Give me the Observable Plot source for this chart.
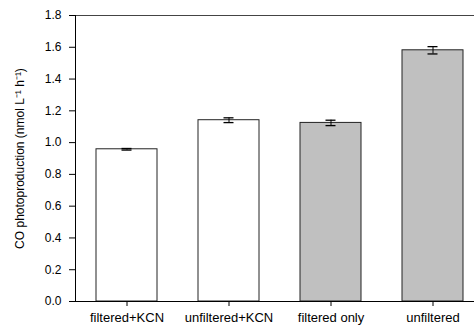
<!DOCTYPE html>
<html><head><meta charset="utf-8">
<script src="https://cdn.jsdelivr.net/npm/d3@7"></script>
<script src="https://cdn.jsdelivr.net/npm/@observablehq/plot@0.6"></script>
<style>body{margin:0;background:#fff;font-family:"Liberation Sans",Arial,sans-serif;}</style>
</head><body><div id="chart"></div>
<script>
const categories = ["filtered+KCN", "unfiltered+KCN", "filtered only", "unfiltered"];
const values = [0.958, 1.141, 1.124, 1.581];
const errors = [0.005, 0.015, 0.017, 0.023];
const fills = ["white", "white", "#c0c0c0", "#c0c0c0"];
const yTicks = [0, 0.2, 0.4, 0.6, 0.8, 1.0, 1.2, 1.4, 1.6, 1.8];

const data = categories.map((c, i) => ({cat: c, v: values[i], e: errors[i], f: fills[i]}));

const chart = Plot.plot({
  width: 474, height: 331,
  marginLeft: 75, marginRight: 0, marginTop: 15, marginBottom: 30,
  style: {fontFamily: "'Liberation Sans', Arial, sans-serif", color: "#000", background: "white"},
  x: {domain: categories, range: [76, 484], paddingInner: 0.4, paddingOuter: 0.2},
  y: {domain: [0, 1.8]},
  marks: [
    Plot.barY(data, {x: "cat", y: "v", fill: "f", stroke: "#222", strokeWidth: 1}),
    Plot.ruleX(data, {x: "cat", y1: d => d.v - d.e, y2: d => d.v + d.e, stroke: "black", strokeWidth: 1}),
    Plot.tickY(data, {x: "cat", y: d => d.v - d.e, stroke: "black", strokeWidth: 1.3, insetLeft: 25.5, insetRight: 25.5}),
    Plot.tickY(data, {x: "cat", y: d => d.v + d.e, stroke: "black", strokeWidth: 1.3, insetLeft: 25.5, insetRight: 25.5}),
    Plot.frame({anchor: "top", stroke: "#444", strokeWidth: 1}),
    Plot.frame({anchor: "left", stroke: "black", strokeWidth: 1}),
    Plot.frame({anchor: "bottom", stroke: "black", strokeWidth: 1}),
    Plot.axisY({ticks: yTicks, tickFormat: d3.format(".1f"), tickSize: 6, tickPadding: 8, fontSize: 12,
      label: "CO photoproduction (nmol L\u207B\u00B9 h\u207B\u00B9)", labelAnchor: "center", labelArrow: "none", labelOffset: 60}),
    Plot.axisX({tickSize: 5, tickPadding: 6, fontSize: 13, label: null})
  ]
});
document.getElementById("chart").appendChild(chart);
</script></body></html>
